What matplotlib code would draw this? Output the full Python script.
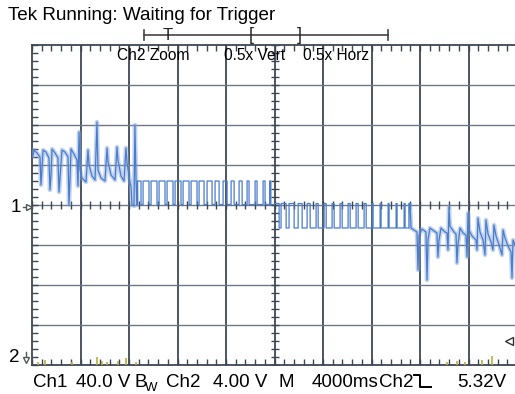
import numpy as np
import matplotlib.pyplot as plt
from matplotlib.lines import Line2D

plt.rcParams['font.family'] = ['Liberation Sans', 'DejaVu Sans']

# Ch2 trace: time in s (4000 ms/div), level in V (4.00 V/div)
# first burst, read point by point
burst1_t = [0.08, 0.16, 0.41, 0.66, 0.74, 0.82, 0.91, 1.15, 1.40, 1.48, 1.57, 1.65,
            1.90, 2.14, 2.23, 2.31, 2.47, 2.72, 2.97, 3.05, 3.13, 3.22, 3.46, 3.71,
            3.79, 3.88, 3.96, 4.12, 4.45, 4.62, 4.70, 4.95, 5.20, 5.36, 5.44, 5.69,
            6.02, 6.19, 6.27, 6.52, 6.85, 7.01, 7.09, 7.34, 7.59, 7.75, 7.84, 8.08,
            8.16, 8.25, 8.41, 8.49, 8.58, 8.66]
burst1_v = [4.85, 5.45, 5.15, 4.75, 1.95, 3.45, 5.45, 5.25, 4.65, 1.45, 2.95, 5.55,
            5.15, 4.65, 1.25, 2.65, 5.45, 5.25, 4.75, -0.05, 2.45, 5.55, 5.05, 4.45,
            1.85, 7.25, 3.45, 2.65, 2.25, 5.45, 3.95, 2.85, 2.45, 8.25, 3.45, 2.65,
            2.35, 5.65, 4.25, 2.95, 2.45, 5.75, 4.45, 2.85, 2.35, 5.65, 4.15, 2.25,
            1.85, -0.05, -0.15, 7.95, 2.45, -0.05]

# clean part, positive pulses (start, end) in s
up_pulses = [(8.70, 8.99), (9.16, 9.65), (9.82, 10.31), (10.48, 10.97), (11.14, 11.63),
             (11.80, 12.29), (12.46, 12.95), (13.12, 13.61), (13.78, 14.19), (14.44, 14.85),
             (15.10, 15.43), (15.76, 16.09), (16.42, 16.67), (17.08, 17.33), (17.74, 17.90),
             (18.40, 18.56), (19.06, 19.22), (19.60, 19.70)]
up_base = 0.0
up_level = 2.35

# clean part, negative pulses
down_pulses = [(20.38, 20.54), (20.96, 21.20), (21.62, 21.95), (22.28, 22.69), (22.94, 23.43),
               (23.60, 24.09), (24.26, 24.75), (24.92, 25.41), (25.58, 26.07), (26.24, 26.73),
               (26.90, 27.39), (27.56, 28.05), (28.13, 28.71), (28.79, 29.37), (29.45, 30.03),
               (30.11, 30.69), (30.77, 31.09)]
down_base = 0.1
down_level = -2.35

# last burst
burst2_t = [31.18, 31.26, 31.51, 31.75, 31.84, 31.92, 32.16, 32.49, 32.58, 32.66, 32.82,
            33.15, 33.40, 33.48, 33.57, 33.73, 34.06, 34.23, 34.31, 34.39, 34.47, 34.80,
            34.97, 35.05, 35.13, 35.30, 35.55, 35.79, 35.88, 35.96, 36.04, 36.29, 36.62,
            36.70, 36.78, 36.95, 37.20, 37.36, 37.44, 37.61, 37.86, 38.02, 38.10, 38.27,
            38.52, 38.76, 38.85, 39.01, 39.26, 39.51, 39.59, 39.67, 39.84, 40.00]
burst2_v = [-0.05, -2.35, -2.55, -2.75, -6.55, -3.05, -2.45, -2.75, -7.55, -3.55, -2.35,
            -2.65, -2.85, -5.25, -3.55, -2.35, -2.75, -2.85, -4.55, -0.25, -2.15, -2.75,
            -2.95, -5.85, -4.05, -2.35, -2.85, -3.05, -5.25, -0.85, -2.55, -3.15, -3.55,
            -4.55, -1.35, -2.75, -3.55, -5.05, -1.55, -2.95, -3.75, -4.55, -2.05, -3.15,
            -4.05, -5.05, -2.55, -3.35, -4.15, -4.75, -7.35, -3.55, -4.05, -4.35]

# Ch1 glitches at the bottom edge
ch1_t = [0.49, 1.07, 3.30, 5.36, 5.77, 6.19, 7.09, 7.75, 8.58, 34.23, 35.05, 35.71, 37.11, 37.94]
ch1_v = [-15.75, -15.55, -15.75, -15.25, -15.65, -15.75, -15.65, -15.35, -15.75,
         -15.75, -15.65, -15.75, -15.55, -15.15]


def pulse_train(t0, t1, base, level, pulses):
    t, v = [t0], [base]
    for a, b in pulses:
        t += [a, a, b, b]
        v += [base, level, level, base]
    t.append(t1)
    v.append(base)
    return t, v


W, H = 515, 394
fig = plt.figure(figsize=(W / 100, H / 100), dpi=100)
fx = lambda x: x / W
fy = lambda y: 1 - y / H

ax = fig.add_axes([fx(32), fy(364.5), 485 / W, 320 / H])
ax.set_xlim(0, 40)
ax.set_ylim(-16, 16)

grid_col = '#3d4653'
for t in np.arange(4, 40, 4):
    ax.axvline(t, color=grid_col, lw=1.3, zorder=1)
for v in np.arange(-12, 16, 4):
    ax.axhline(v, color='#6c7886', lw=1.0, zorder=1)

# minor ticks on the centre cross
mt = np.arange(0, 40.01, 0.8)
mv = np.arange(-16, 16.01, 0.8)
ax.plot(mt, np.zeros_like(mt), ls='none', marker='|', ms=6, mew=1.0, color=grid_col, zorder=2)
ax.plot(np.full_like(mv, 20), mv, ls='none', marker='_', ms=6, mew=1.0, color=grid_col, zorder=2)

ax.set_xticks(mt, minor=True)
ax.set_yticks(mv, minor=True)
ax.set_xticks([])
ax.set_yticks([])
ax.tick_params(which='minor', direction='in', length=4, width=1, color=grid_col,
               top=True, bottom=True, left=True, right=False,
               labelbottom=False, labelleft=False)
for s in ['left', 'top', 'bottom']:
    ax.spines[s].set_color(grid_col)
    ax.spines[s].set_linewidth(1.3)
ax.spines['right'].set_visible(False)

blue = '#4a7ccc'
t2, v2 = pulse_train(8.66, 20.0, up_base, up_level, up_pulses)
t3, v3 = pulse_train(20.0, 31.10, down_base, down_level, down_pulses)
trace_t = burst1_t + t2 + t3 + burst2_t
trace_v = burst1_v + v2 + v3 + burst2_v

# noisy bursts get a soft band
ax.plot(burst1_t, burst1_v, color='#86a8dd', lw=3.2, alpha=0.5, zorder=3)
ax.plot(burst2_t, burst2_v, color='#86a8dd', lw=3.2, alpha=0.5, zorder=3)
ax.plot(trace_t, trace_v, color=blue, lw=0.9, zorder=4)

ax.vlines(ch1_t, -16.2, ch1_v, color='#b9ae3c', lw=1.2, zorder=4)

# header
fig.text(fx(8), fy(20), 'Tek Running: Waiting for Trigger', fontsize=13.6, va='baseline')

dark = '#222222'
fig.add_artist(Line2D([fx(144), fx(388)], [fy(35), fy(35)], color='#444444', lw=1.2))
for x in (144, 388):
    fig.add_artist(Line2D([fx(x), fx(x)], [fy(30), fy(40)], color='#444444', lw=1.2))
fig.text(fx(168), fy(35), 'T', fontsize=12, ha='center', va='center', color=dark)
fig.text(fx(251), fy(35), '[', fontsize=13, ha='center', va='center', color=dark)
fig.text(fx(299), fy(35), ']', fontsize=13, ha='center', va='center', color=dark)

for x, s in [(117, 'Ch2 Zoom'), (224, '0.5x Vert'), (303, '0.5x Horz')]:
    fig.text(fx(x), fy(60), s, fontsize=11.2, va='baseline')

# channel markers
fig.text(fx(11), fy(207), '1', fontsize=13.5, va='center')
fig.add_artist(Line2D([fx(23), fx(29)], [fy(207), fy(207)], color='#555555', lw=1))
fig.add_artist(Line2D([fx(29)], [fy(207)], marker='>', ms=4, mfc='white', mec='#555555'))
fig.text(fx(9), fy(357), '2', fontsize=13.5, va='center')
fig.add_artist(Line2D([fx(26), fx(26)], [fy(352), fy(360)], color='#555555', lw=1))
fig.add_artist(Line2D([fx(26)], [fy(360)], marker='v', ms=4, mfc='white', mec='#555555'))
fig.add_artist(Line2D([fx(509)], [fy(341)], marker='<', ms=6, mfc='white', mec='#333333'))

# readout line
fs = 13.5
yb = 387
for x, s in [(33, 'Ch1'), (76, '40.0 V'), (166, 'Ch2'), (213, '4.00 V'), (279, 'M'),
             (312, '4000ms'), (379, 'Ch2'), (457, '5.32V')]:
    fig.text(fx(x), fy(yb), s, fontsize=fs, va='baseline')
fig.text(fx(134), fy(yb), 'B', fontsize=fs, va='baseline')
fig.text(fx(145), fy(yb + 4), 'W', fontsize=9.5, va='baseline')
fig.add_artist(Line2D([fx(414), fx(420), fx(420), fx(431)],
                      [fy(375), fy(375), fy(387), fy(387)], color='black', lw=1.4))

fig.savefig('out.png', dpi=100)
